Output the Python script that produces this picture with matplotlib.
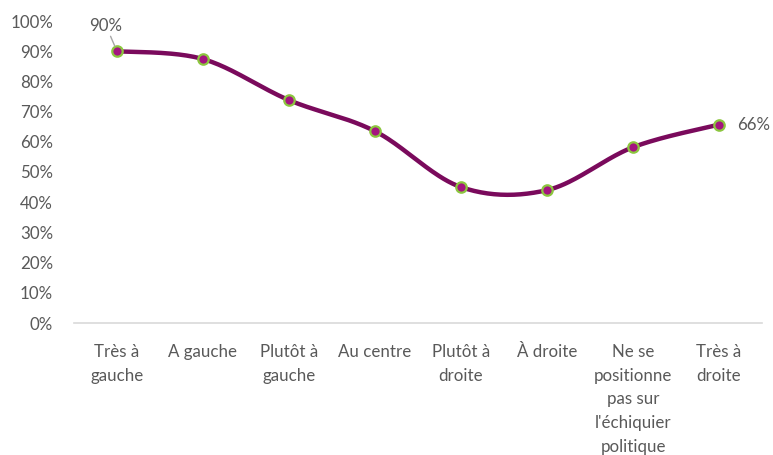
import numpy as np
import matplotlib.pyplot as plt

categories = ["Très à\ngauche", "A gauche", "Plutôt à\ngauche", "Au centre",
              "Plutôt à\ndroite", "À droite",
              "Ne se\npositionne\npas sur\nl'échiquier\npolitique", "Très à\ndroite"]
values = [0.90, 0.874, 0.738, 0.635, 0.45, 0.44, 0.582, 0.657]
yticks = [0, 0.1, 0.2, 0.3, 0.4, 0.5, 0.6, 0.7, 0.8, 0.9, 1.0]

TEXT = "#595959"
LINE = "#7A0A5C"
FACE = "#A4147F"
EDGE = "#8CC63F"
FS = 12.2

plt.rcParams['font.family'] = ['Lato', 'DejaVu Sans']


def smooth(x, y, n=40):
    # Bezier segments with control points at 1/6 of neighbour spread
    x = np.asarray(x, float)
    y = np.asarray(y, float)
    px = np.concatenate([[x[0]], x, [x[-1]]])
    py = np.concatenate([[y[0]], y, [y[-1]]])
    xs, ys = [], []
    t = np.linspace(0, 1, n)
    for i in range(len(x) - 1):
        p0 = np.array([px[i + 1], py[i + 1]])
        p3 = np.array([px[i + 2], py[i + 2]])
        c1 = p0 + (np.array([px[i + 2], py[i + 2]]) - np.array([px[i], py[i]])) / 6
        c2 = p3 - (np.array([px[i + 3], py[i + 3]]) - np.array([px[i + 1], py[i + 1]])) / 6
        b = ((1 - t) ** 3)[:, None] * p0 + (3 * (1 - t) ** 2 * t)[:, None] * c1 \
            + (3 * (1 - t) * t ** 2)[:, None] * c2 + (t ** 3)[:, None] * p3
        xs.append(b[:, 0])
        ys.append(b[:, 1])
    return np.concatenate(xs), np.concatenate(ys)


fig = plt.figure(figsize=(7.73, 4.55), dpi=100)
ax = fig.add_axes([74 / 773, 132 / 455, 688 / 773, 302 / 455])

x = np.arange(len(categories))
sx, sy = smooth(x, values)
ax.plot(sx, sy, color=LINE, lw=3.2, solid_capstyle='round', zorder=2)
ax.plot(x, values, 'o', ms=7.5, mfc=FACE, mec=EDGE, mew=1.6, zorder=3)

ax.set_xlim(-0.5, len(categories) - 0.5)
ax.set_ylim(0, 1.0)
ax.set_yticks(yticks)
ax.set_yticklabels([f"{int(round(v * 100))}%" for v in yticks])
ax.set_xticks(x)
ax.set_xticklabels(categories, linespacing=1.6, va='top')

for s in ['top', 'right', 'left']:
    ax.spines[s].set_visible(False)
ax.spines['bottom'].set_color('#D9D9D9')
ax.spines['bottom'].set_linewidth(1.2)
ax.tick_params(axis='both', length=0, labelsize=FS, colors=TEXT)
ax.tick_params(axis='y', pad=15)
ax.tick_params(axis='x', pad=15)

# first and last point labels
ax.annotate(f"{values[0]:.0%}", xy=(x[0], values[0]), xytext=(-8, 18.5),
            textcoords='offset points', ha='center', va='center', fontsize=FS, color=TEXT,
            arrowprops=dict(arrowstyle='-', color='#A6A6A6', lw=1, shrinkA=0, shrinkB=4))
ax.annotate(f"{values[-1]:.0%}", xy=(x[-1], values[-1]), xytext=(13, 0),
            textcoords='offset points', ha='left', va='center', fontsize=FS, color=TEXT)

fig.savefig("out.png", dpi=100)
